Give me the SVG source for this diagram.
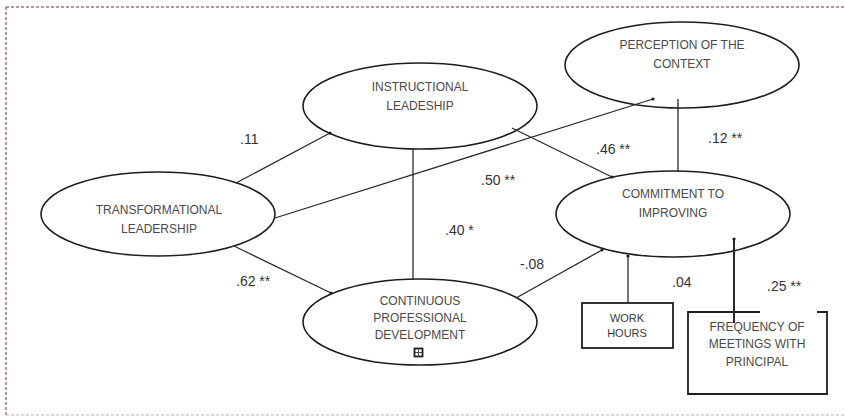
<svg xmlns="http://www.w3.org/2000/svg" width="845" height="416" viewBox="0 0 845 416">
<style>
.bg{fill:#ffffff}
.node ellipse{fill:#ffffff;stroke:#1e1e1e;stroke-width:1.6}
.node rect{fill:#ffffff;stroke:#1e1e1e;stroke-width:1.8}
.nt{font-family:"Liberation Sans",Arial,sans-serif;font-size:12px;fill:#4a4a4a;text-anchor:middle}
.nts{font-family:"Liberation Sans",Arial,sans-serif;font-size:11px;fill:#3a3a3a;text-anchor:middle}
.lbl{font-family:"Liberation Sans",Arial,sans-serif;font-size:14px;fill:#333333}
.edge{stroke:#2a2a2a;stroke-width:1.3;fill:none}
.thick{stroke:#2a2a2a;stroke-width:2;fill:none}
.arr{marker-end:url(#dot)}
</style>
<defs>
<marker id="dot" viewBox="0 0 4 4" refX="2" refY="2" markerWidth="4" markerHeight="4" markerUnits="userSpaceOnUse">
<circle cx="2" cy="2" r="1.6" fill="#1e1e1e"/>
</marker>
</defs>
<rect class="bg" x="0" y="0" width="845" height="416"/>
<g id="frame">
<line x1="6" y1="7" x2="845" y2="7" stroke="#8a2040" stroke-width="1" stroke-dasharray="3,2"/>
<line x1="6" y1="7" x2="6" y2="415" stroke="#8a2040" stroke-width="1" stroke-dasharray="3,2"/>
<line x1="6" y1="415" x2="845" y2="415" stroke="#c9a6ae" stroke-width="1" stroke-dasharray="3,2"/>
</g>
<g id="labels">
<text class="lbl" x="240" y="144">.11</text>
<text class="lbl" x="481" y="185">.50 **</text>
<text class="lbl" x="596" y="154">.46 **</text>
<text class="lbl" x="708" y="143">.12 **</text>
<text class="lbl" x="236" y="286">.62 **</text>
<text class="lbl" x="445" y="235">.40 *</text>
<text class="lbl" x="520" y="269">-.08</text>
<text class="lbl" x="672" y="287">.04</text>
<text class="lbl" x="767" y="291">.25 **</text>
</g>
<g id="transformational" class="node">
<ellipse cx="158" cy="214" rx="117" ry="42"/>
<text class="nt" x="159" y="214">TRANSFORMATIONAL</text>
<text class="nt" x="159" y="233">LEADERSHIP</text>
</g>
<g id="instructional" class="node">
<ellipse cx="420" cy="106" rx="117" ry="43"/>
<text class="nt" x="420" y="91">INSTRUCTIONAL</text>
<text class="nt" x="420" y="110">LEADESHIP</text>
</g>
<g id="perception" class="node">
<ellipse cx="682" cy="65" rx="117" ry="43"/>
<text class="nt" x="682" y="49">PERCEPTION OF THE</text>
<text class="nt" x="682" y="68">CONTEXT</text>
</g>
<g id="commitment" class="node">
<ellipse cx="673" cy="214" rx="117" ry="43"/>
<text class="nt" x="673" y="198">COMMITMENT TO</text>
<text class="nt" x="673" y="217">IMPROVING</text>
</g>
<g id="cpd" class="node">
<ellipse cx="420" cy="322" rx="117" ry="43"/>
<text class="nt" x="420" y="305">CONTINUOUS</text>
<text class="nt" x="420" y="322">PROFESSIONAL</text>
<text class="nt" x="420" y="339">DEVELOPMENT</text>
<rect x="414.5" y="348.5" width="8" height="8" fill="none" stroke="#444" stroke-width="1"/>
<line x1="415" y1="352.5" x2="422" y2="352.5" stroke="#444" stroke-width="1"/>
<line x1="418.5" y1="349" x2="418.5" y2="356" stroke="#444" stroke-width="1"/>
</g>
<g id="workhours" class="node">
<rect x="582" y="303" width="91" height="45"/>
<text class="nts" x="627" y="322">WORK</text>
<text class="nts" x="627" y="337">HOURS</text>
</g>
<g id="frequency" class="node">
<path d="M760,312 L688,312 L688,394 L827,394 L827,312 L817,312" fill="#ffffff" stroke="#1e1e1e" stroke-width="1.8"/>
<text class="nt" x="757" y="331">FREQUENCY OF</text>
<text class="nt" x="757" y="348">MEETINGS WITH</text>
<text class="nt" x="757" y="366">PRINCIPAL</text>
</g>
<g id="connectors">
<line class="edge arr" x1="236" y1="183" x2="330" y2="133"/>
<line class="edge arr" x1="275" y1="218" x2="653" y2="99"/>
<line class="edge arr" x1="234" y1="246" x2="331" y2="293"/>
<line class="edge arr" x1="512" y1="128" x2="612" y2="177"/>
<line class="edge" x1="413" y1="149" x2="413" y2="279"/>
<line class="edge arr" x1="516" y1="298" x2="602" y2="250"/>
<line class="edge" x1="678" y1="99" x2="678" y2="172"/>
<line class="edge arr" x1="628" y1="303" x2="628" y2="256"/>
<line class="thick arr" x1="734" y1="323" x2="734" y2="239"/>
</g>
</svg>
